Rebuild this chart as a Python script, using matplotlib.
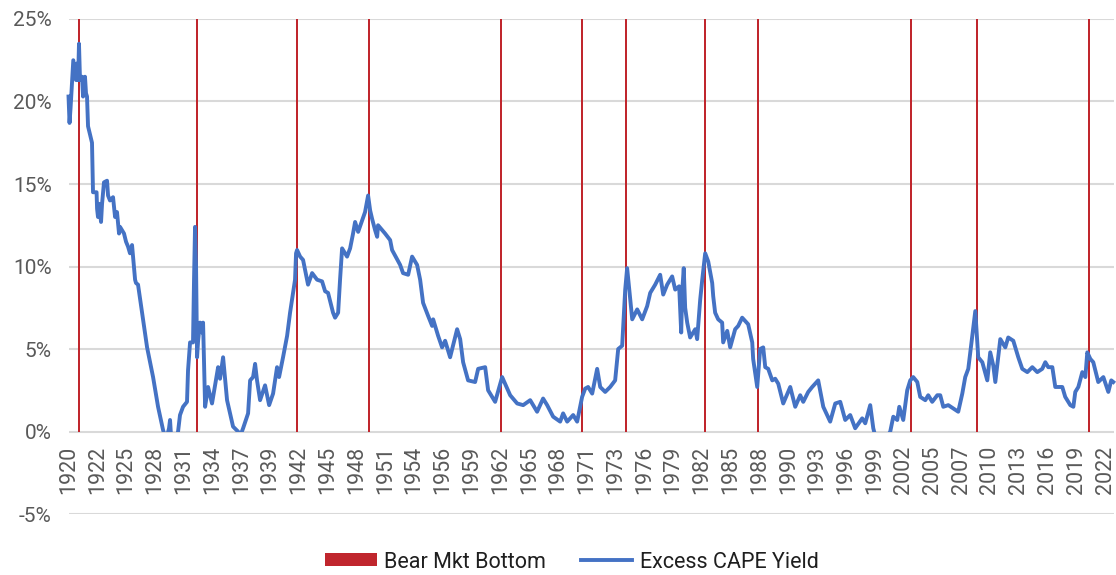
import matplotlib
matplotlib.use("Agg")
import matplotlib.pyplot as plt
from matplotlib.patches import Rectangle

plt.rcParams['font.family'] = ['Roboto', 'DejaVu Sans']

# Excess CAPE yield (%), dated in decimal years
dates = [
    1920.00, 1920.10, 1920.20, 1920.47, 1920.74, 1920.84, 1920.94, 1921.03, 1921.13, 1921.33,
    1921.43, 1921.62, 1921.72, 1921.82, 1921.92, 1922.31, 1922.41, 1922.76, 1922.81, 1922.90,
    1923.00, 1923.20, 1923.30, 1923.49, 1923.79, 1923.89, 1924.08, 1924.38, 1924.58, 1924.77,
    1924.97, 1925.07, 1925.46, 1925.66, 1925.86, 1926.05, 1926.25, 1926.35, 1926.55, 1926.64,
    1926.84, 1927.33, 1927.73, 1928.32, 1928.81, 1929.30, 1929.60, 1929.89, 1929.99, 1930.09,
    1930.58, 1930.78, 1930.97, 1931.27, 1931.66, 1931.76, 1931.96, 1932.25, 1932.35, 1932.45,
    1932.55, 1932.65, 1932.75, 1932.94, 1933.14, 1933.24, 1933.44, 1933.73, 1934.12, 1934.72,
    1934.91, 1935.21, 1935.60, 1935.90, 1936.19, 1936.68, 1936.88, 1937.18, 1937.67, 1937.87,
    1938.16, 1938.36, 1938.55, 1938.85, 1939.34, 1939.74, 1940.13, 1940.52, 1940.72, 1941.11,
    1941.51, 1941.80, 1942.29, 1942.39, 1942.49, 1942.79, 1943.08, 1943.57, 1943.97, 1944.46,
    1944.95, 1945.25, 1945.54, 1946.03, 1946.23, 1946.53, 1946.72, 1946.92, 1947.41, 1947.71,
    1948.00, 1948.20, 1948.50, 1948.89, 1949.18, 1949.48, 1949.68, 1949.87, 1950.17, 1950.37,
    1950.46, 1951.15, 1951.65, 1951.84, 1952.63, 1952.92, 1953.42, 1953.81, 1954.30, 1954.60,
    1954.89, 1955.39, 1955.78, 1955.88, 1956.37, 1956.76, 1957.06, 1957.55, 1958.24, 1958.54,
    1958.83, 1959.32, 1960.01, 1960.31, 1961.00, 1961.29, 1961.98, 1962.67, 1963.46, 1964.15,
    1964.74, 1965.43, 1966.11, 1966.70, 1967.10, 1967.69, 1968.38, 1968.67, 1969.07, 1969.66,
    1970.05, 1970.54, 1970.84, 1971.13, 1971.53, 1972.02, 1972.32, 1972.81, 1973.30, 1973.79,
    1974.09, 1974.48, 1974.78, 1974.97, 1975.27, 1975.47, 1975.96, 1976.45, 1976.94, 1977.24,
    1977.73, 1978.22, 1978.52, 1978.91, 1979.40, 1979.70, 1980.09, 1980.29, 1980.39, 1980.54,
    1980.68, 1980.88, 1981.17, 1981.67, 1981.86, 1982.16, 1982.36, 1982.65, 1982.95, 1983.34,
    1983.44, 1983.63, 1983.93, 1984.32, 1984.42, 1984.82, 1985.11, 1985.60, 1985.90, 1986.29,
    1986.59, 1986.88, 1987.28, 1987.37, 1987.77, 1988.06, 1988.36, 1988.56, 1988.85, 1989.25,
    1989.54, 1989.84, 1990.33, 1991.02, 1991.51, 1992.00, 1992.30, 1992.79, 1993.18, 1993.77,
    1994.27, 1994.95, 1995.45, 1995.94, 1996.43, 1996.92, 1997.41, 1998.10, 1998.40, 1998.89,
    1999.19, 1999.48, 2000.37, 2000.86, 2001.16, 2001.55, 2001.75, 2002.14, 2002.53, 2002.83,
    2003.12, 2003.52, 2003.81, 2004.31, 2004.60, 2004.99, 2005.49, 2005.78, 2006.08, 2006.57,
    2007.06, 2007.55, 2007.95, 2008.24, 2008.54, 2008.93, 2009.23, 2009.52, 2009.92, 2010.41,
    2010.70, 2011.00, 2011.20, 2011.69, 2012.18, 2012.47, 2012.97, 2013.46, 2013.85, 2014.35,
    2014.84, 2015.33, 2015.82, 2016.12, 2016.41, 2016.81, 2017.10, 2017.79, 2018.08, 2018.58,
    2018.88, 2019.07, 2019.37, 2019.76, 2020.06, 2020.25, 2020.55, 2020.84, 2021.33, 2021.83,
    2022.32, 2022.61, 2022.81,
]
cape_yield = [
    20.3, 18.7, 19.6, 22.5, 21.3, 22.3, 21.3, 23.5, 21.3, 21.5,
    20.3, 21.5, 20.5, 20.3, 18.5, 17.5, 14.5, 14.5, 13.5, 13.0,
    13.8, 12.7, 13.8, 15.1, 15.2, 14.3, 14.0, 14.2, 13.0, 13.3,
    12.0, 12.4, 12.0, 11.5, 11.2, 10.8, 11.3, 10.6, 9.2, 9.0,
    8.9, 6.8, 5.1, 3.3, 1.5, 0.1, -0.5, 0.2, 0.7, -0.3,
    -0.5, 0.0, 1.0, 1.5, 1.8, 3.7, 5.4, 5.4, 9.2, 12.4,
    10.0, 4.5, 5.5, 6.6, 6.0, 6.6, 1.5, 2.7, 1.7, 3.9,
    3.2, 4.5, 1.9, 1.1, 0.3, 0.0, -0.3, 0.2, 1.1, 3.1,
    3.3, 4.1, 3.1, 1.9, 2.8, 1.6, 2.3, 3.9, 3.3, 4.5,
    5.8, 7.2, 9.2, 10.8, 11.0, 10.6, 10.4, 8.9, 9.6, 9.2,
    9.1, 8.5, 8.4, 7.2, 6.9, 7.2, 9.2, 11.1, 10.6, 11.1,
    12.0, 12.7, 12.1, 12.8, 13.3, 14.3, 13.4, 12.9, 12.2, 11.8,
    12.5, 12.0, 11.6, 11.0, 10.1, 9.6, 9.5, 10.6, 10.1, 9.2,
    7.8, 7.0, 6.4, 6.8, 5.8, 5.1, 5.5, 4.5, 6.2, 5.6,
    4.2, 3.1, 3.0, 3.8, 3.9, 2.5, 1.8, 3.3, 2.2, 1.7,
    1.6, 1.9, 1.2, 2.0, 1.6, 0.9, 0.6, 1.1, 0.6, 1.0,
    0.6, 2.1, 2.6, 2.7, 2.3, 3.8, 2.7, 2.4, 2.7, 3.1,
    5.0, 5.2, 8.6, 9.9, 8.0, 6.8, 7.4, 6.8, 7.6, 8.4,
    8.9, 9.5, 8.3, 8.9, 9.4, 8.6, 8.8, 6.0, 8.5, 9.9,
    7.5, 6.6, 5.7, 6.2, 5.6, 8.0, 9.2, 10.8, 10.3, 9.0,
    8.2, 7.2, 6.8, 6.6, 5.4, 6.1, 5.1, 6.2, 6.4, 6.9,
    6.7, 6.5, 5.4, 4.4, 2.7, 5.0, 5.1, 3.9, 3.8, 3.1,
    3.2, 2.9, 1.7, 2.7, 1.5, 2.2, 1.8, 2.4, 2.7, 3.1,
    1.5, 0.6, 1.7, 1.8, 0.7, 1.0, 0.2, 0.8, 0.5, 1.6,
    0.2, -0.5, -0.5, 0.0, 0.9, 0.7, 1.5, 0.7, 2.5, 3.1,
    3.3, 3.0, 2.1, 1.9, 2.2, 1.8, 2.2, 2.2, 1.5, 1.6,
    1.4, 1.2, 2.3, 3.3, 3.8, 5.8, 7.3, 4.5, 4.2, 3.1,
    4.8, 4.0, 3.0, 5.6, 5.1, 5.7, 5.5, 4.5, 3.8, 3.6,
    3.9, 3.6, 3.8, 4.2, 3.9, 3.9, 2.7, 2.7, 2.1, 1.6,
    1.5, 2.4, 2.7, 3.6, 3.3, 4.8, 4.4, 4.2, 3.0, 3.3,
    2.4, 3.1, 3.0,
]

# bear market bottoms
bear_bottoms = [1921.03, 1932.62, 1942.49, 1949.58, 1962.54, 1970.51,
                1974.87, 1982.65, 1987.84, 2002.90, 2009.39, 2020.42]
bear_height = 25

# category axis labels, one every 34 months from Jan 1920
tick_labels = ['1920', '1922', '1925', '1928', '1931', '1934', '1937', '1939', '1942',
               '1945', '1948', '1951', '1954', '1956', '1959', '1962', '1965', '1968',
               '1971', '1973', '1976', '1979', '1982', '1985', '1988', '1990', '1993',
               '1996', '1999', '2002', '2005', '2007', '2010', '2013', '2016', '2019', '2022']
tick_pos = [1920 + k * 34 / 12 for k in range(len(tick_labels))]

red = '#c0262d'
blue = '#4472c4'
grey = '#595959'

fig = plt.figure(figsize=(11.16, 5.75), dpi=100)
ax = fig.add_axes([0.0614, 0.106, 0.937, 0.861])

# x labels sit on the 0% line, like the category axis in the original
ax.spines['bottom'].set_position(('data', 0))
for s in ax.spines.values():
    s.set_visible(False)

bars = ax.bar(bear_bottoms, [bear_height] * len(bear_bottoms), width=0.2, color=red,
              label='Bear Mkt Bottom', zorder=2)
line, = ax.plot(dates, cape_yield, color=blue, lw=2.8, label='Excess CAPE Yield',
                zorder=3, solid_joinstyle='round')
clip = Rectangle((1900, 0), 200, 100, transform=ax.transData)
line.set_clip_path(clip)

ax.set_xlim(1920, 2022.9)
ax.set_ylim(-5, 25)
ax.set_yticks([-5, 0, 5, 10, 15, 20, 25])
ax.set_yticklabels([f'{v}%' for v in [-5, 0, 5, 10, 15, 20, 25]])
ax.yaxis.grid(True, color='#d9d9d9', lw=1.5, zorder=0)
ax.set_axisbelow(True)

ax.set_xticks(tick_pos)
ax.set_xticklabels(tick_labels)
ax.tick_params(axis='x', length=0, pad=10, labelsize=15.5, labelcolor=grey,
               labelrotation=90)
ax.tick_params(axis='y', length=0, pad=12, labelsize=15, labelcolor=grey)

fig.legend([bars, line], ['Bear Mkt Bottom', 'Excess CAPE Yield'],
           loc='center', bbox_to_anchor=(572 / 1116, 1 - 562 / 575), ncol=2,
           frameon=False, fontsize=15.5, handlelength=2.4, handleheight=0.55,
           handletextpad=0.35, columnspacing=1.6, labelcolor='#1f1f1f')

fig.savefig('out.png', dpi=100)
